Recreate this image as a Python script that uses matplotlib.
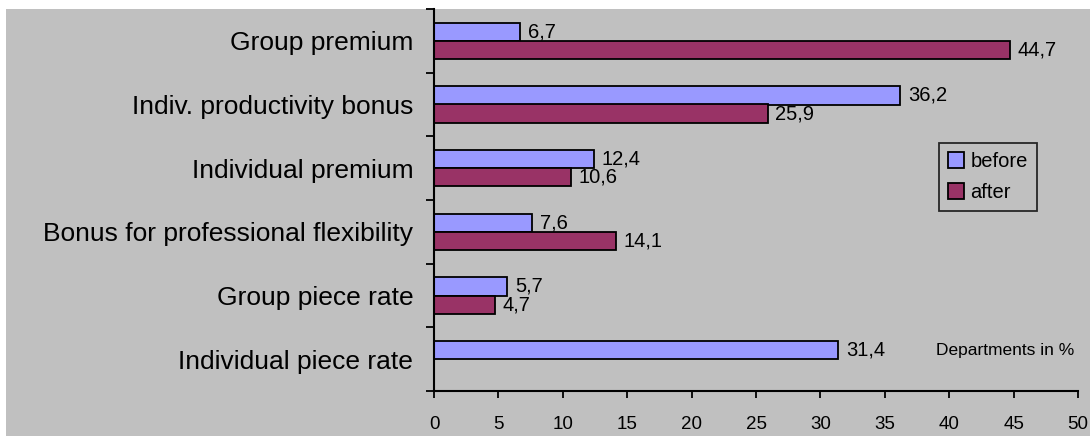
import numpy as np
import matplotlib.pyplot as plt
from matplotlib.patches import Rectangle
from matplotlib.ticker import FixedLocator

plt.rcParams['font.family'] = ['Liberation Sans', 'DejaVu Sans']

# categories listed top to bottom
categories = ["Group premium", "Indiv. productivity bonus", "Individual premium",
              "Bonus for professional flexibility", "Group piece rate",
              "Individual piece rate"]
before = [6.7, 36.2, 12.4, 7.6, 5.7, 31.4]
after = [44.7, 25.9, 10.6, 14.1, 4.7, np.nan]
xticks = [0, 5, 10, 15, 20, 25, 30, 35, 40, 45, 50]

c_before = '#9999FF'
c_after = '#993366'
bg = '#C0C0C0'

fig = plt.figure(figsize=(10.9, 4.36), dpi=100)
fig.patches.append(Rectangle((6 / 1090, 0), 1, 1 - 9 / 436, transform=fig.transFigure,
                             facecolor=bg, edgecolor='none', zorder=-5))
ax = fig.add_axes([434 / 1090, 45 / 436, 644 / 1090, 382 / 436])
ax.set_facecolor('none')

n = len(categories)
ypos = np.arange(n)[::-1]
h = 0.285
b1 = ax.barh(ypos + h / 2, before, height=h, color=c_before, edgecolor='black', linewidth=1.3, label='before')
b2 = ax.barh(ypos - h / 2, np.nan_to_num(after), height=h, color=c_after, edgecolor='black', linewidth=1.3, label='after')
for rect in b2:
    if rect.get_width() == 0:
        rect.set_visible(False)

def fmt(v):
    return ("%.1f" % v).replace('.', ',')

for vals, yy in ((before, ypos + h / 2), (after, ypos - h / 2)):
    for v, y in zip(vals, yy):
        if np.isnan(v):
            continue
        ax.annotate(fmt(v), (v, y), xytext=(5.5, 0), textcoords='offset points',
                    ha='left', va='center', fontsize=14.5)

ax.set_xlim(0, 50)
ax.set_ylim(-0.5, n - 0.5)
ax.set_xticks(xticks)
ax.set_xticklabels([str(t) for t in xticks], fontsize=13.5)
ax.yaxis.set_major_locator(FixedLocator(np.arange(-0.5, n, 1.0)))
ax.yaxis.set_major_formatter(plt.NullFormatter())
ax.set_yticks(ypos, minor=True)
ax.set_yticklabels(categories, minor=True, fontsize=19)
ax.tick_params(axis='y', which='minor', length=0, pad=15)
ax.tick_params(axis='y', which='major', length=6, width=1.3)
ax.tick_params(axis='x', length=5, width=1.3, pad=13, direction='out')

for s in ('top', 'right'):
    ax.spines[s].set_visible(False)
for s in ('left', 'bottom'):
    ax.spines[s].set_linewidth(1.5)

ax.text(49.7, ypos[-1] + h / 2, "Departments in %", ha='right', va='center', fontsize=12.5)

leg = fig.legend(handles=[b1, b2], labels=['before', 'after'],
                 loc='upper left', bbox_to_anchor=(939 / 1090, 1 - 143 / 436),
                 fontsize=14.5, frameon=True, fancybox=False, facecolor=bg, edgecolor='black',
                 handlelength=0.8, handleheight=0.8, handletextpad=0.3,
                 borderpad=0.45, labelspacing=0.6, borderaxespad=0)
leg.get_frame().set_linewidth(1.3)

fig.savefig('out.png', dpi=100)
